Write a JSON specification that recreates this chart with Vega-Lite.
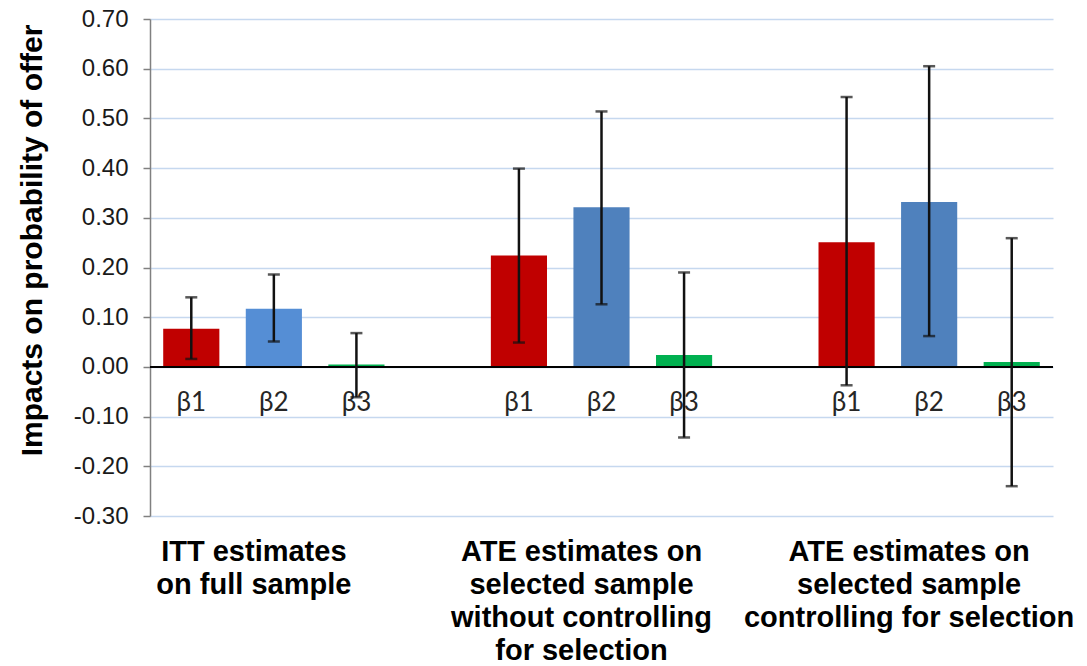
{
  "$schema": "https://vega.github.io/schema/vega-lite/v6.json",
  "autosize": {"type": "none"},
  "width": 903,
  "height": 497,
  "padding": {"left": 150, "top": 19, "right": 34, "bottom": 150},
  "background": "white",
  "config": {"view": {"stroke": null}},
  "data": {
    "values": [
      {"group": "ITT estimates|on full sample", "beta": "β1", "est": 0.077, "lo": 0.016, "hi": 0.140},
      {"group": "ITT estimates|on full sample", "beta": "β2", "est": 0.117, "lo": 0.051, "hi": 0.186},
      {"group": "ITT estimates|on full sample", "beta": "β3", "est": 0.005, "lo": -0.061, "hi": 0.068},
      {"group": "ATE estimates on|selected sample|without controlling|for selection", "beta": "β1", "est": 0.224, "lo": 0.049, "hi": 0.399},
      {"group": "ATE estimates on|selected sample|without controlling|for selection", "beta": "β2", "est": 0.321, "lo": 0.126, "hi": 0.514},
      {"group": "ATE estimates on|selected sample|without controlling|for selection", "beta": "β3", "est": 0.024, "lo": -0.142, "hi": 0.190},
      {"group": "ATE estimates on|selected sample|controlling for selection", "beta": "β1", "est": 0.251, "lo": -0.037, "hi": 0.543},
      {"group": "ATE estimates on|selected sample|controlling for selection", "beta": "β2", "est": 0.332, "lo": 0.062, "hi": 0.605},
      {"group": "ATE estimates on|selected sample|controlling for selection", "beta": "β3", "est": 0.010, "lo": -0.240, "hi": 0.259}
    ]
  },
  "encoding": {
    "x": {
      "field": "group",
      "type": "nominal",
      "sort": null,
      "scale": {"paddingInner": 0.244, "paddingOuter": 0},
      "axis": {
        "title": null,
        "domain": false,
        "ticks": false,
        "tickSize": 0,
        "grid": false,
        "labelAngle": 0,
        "labelAlign": "center",
        "labelBaseline": "top",
        "labelFont": "Liberation Sans",
        "labelFontWeight": "bold",
        "labelFontSize": 29,
        "labelColor": "#000000",
        "labelLineHeight": 33,
        "labelPadding": 21,
        "labelOffset": -20,
        "labelLimit": 0,
        "labelOverlap": false,
        "labelBound": false,
        "labelExpr": "split(datum.value, '|')"
      }
    },
    "xOffset": {
      "field": "beta",
      "type": "nominal",
      "scale": {"paddingInner": 0.32, "paddingOuter": 0.16}
    }
  },
  "layer": [
    {
      "mark": {"type": "bar"},
      "encoding": {
        "y": {
          "field": "est",
          "type": "quantitative",
          "scale": {"domain": [-0.3, 0.7], "nice": false, "zero": false},
          "axis": {
            "title": "Impacts on probability of offer",
            "titleFont": "Liberation Sans",
            "titleFontWeight": "bold",
            "titleFontSize": 30,
            "titleColor": "#000000",
            "titlePadding": 26,
            "titleY": 221,
            "values": [-0.3, -0.2, -0.1, 0, 0.1, 0.2, 0.3, 0.4, 0.5, 0.6, 0.7],
            "format": ".2f",
            "labelExpr": "replace(datum.label, '−', '-')",
            "labelFont": "Liberation Sans",
            "labelFontSize": 24,
            "labelColor": "#1a1a1a",
            "labelPadding": 15,
            "tickSize": 7,
            "tickColor": "#808080",
            "tickWidth": 1.5,
            "domainColor": "#808080",
            "domainWidth": 1.5,
            "gridColor": "#c6d8ef",
            "gridWidth": 1.5
          }
        },
        "y2": {"datum": 0},
        "color": {
          "field": "beta",
          "type": "nominal",
          "scale": {"domain": ["β1", "β2", "β3"], "range": ["#c00000", "#4f81bd", "#00b050"]},
          "legend": null,
          "condition": {"test": "datum.beta === 'β2' && indexof(datum.group, 'ITT') === 0", "value": "#558ed5"}
        }
      }
    },
    {
      "mark": {"type": "rule", "color": "#000000", "strokeWidth": 2},
      "encoding": {"x": null, "xOffset": null, "y": {"datum": 0}}
    },
    {
      "mark": {"type": "text", "font": "Lato", "fontSize": 26, "color": "#262626", "baseline": "middle", "align": "center", "dy": 36},
      "encoding": {"y": {"datum": 0}, "text": {"field": "beta"}}
    },
    {
      "mark": {"type": "rule", "color": "#111111", "strokeWidth": 2.5},
      "encoding": {"y": {"field": "lo", "type": "quantitative"}, "y2": {"field": "hi"}}
    },
    {
      "mark": {"type": "tick", "color": "#111111", "thickness": 2.5, "size": 12},
      "encoding": {"y": {"field": "lo", "type": "quantitative"}}
    },
    {
      "mark": {"type": "tick", "color": "#111111", "thickness": 2.5, "size": 12},
      "encoding": {"y": {"field": "hi", "type": "quantitative"}}
    }
  ]
}
